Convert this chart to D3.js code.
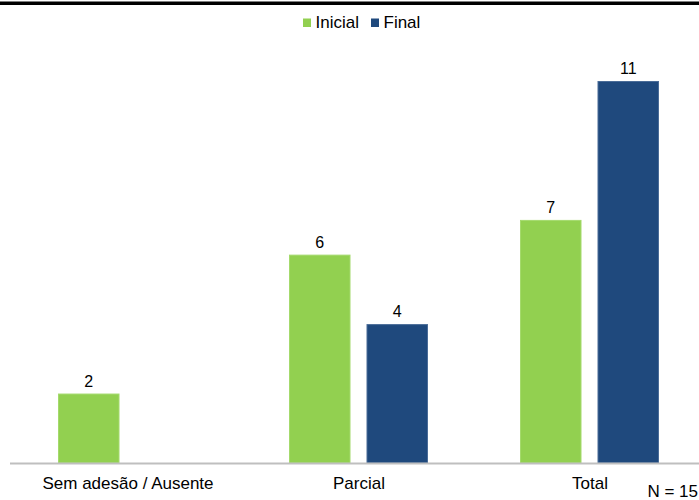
<!DOCTYPE html>
<html><head><meta charset="utf-8">
<script src="https://cdn.jsdelivr.net/npm/d3@7"></script>
<style>body{margin:0;background:#fff}svg{display:block;font-family:"Liberation Sans",Arial,sans-serif}</style>
</head><body>
<svg id="c" width="699" height="500"></svg>
<script>
const categories = ["Sem adesão / Ausente", "Parcial", "Total"];
const seriesNames = ["Inicial", "Final"];
const inicial = [2, 6, 7];
const final = [null, 4, 11];
const colors = ["#92D050", "#1F497D"];
const edgeColors = ["#A4DA6C", "#4A6C98"];
const note = "N = 15";

const svg = d3.select("#c");
const baseY = 463;
const y = d3.scaleLinear().domain([0, 11]).range([baseY, 81]);
const x0 = d3.scaleBand().domain(categories).range([12.5, 705.5]);
const x1 = d3.scaleBand().domain(seriesNames).range([45.5, 184.5]).paddingInner(16 / 77.5);

// top rule
svg.append("rect").attr("x", 0).attr("y", 1.5).attr("width", 699).attr("height", 3.5).attr("fill", "#000");

const data = categories.map((c, i) => ({c, vals: [inicial[i], final[i]]}));
const g = svg.selectAll("g.cat").data(data).join("g").attr("class", "cat")
  .attr("transform", d => `translate(${x0(d.c)},0)`);

g.each(function(d) {
  const gg = d3.select(this);
  d.vals.forEach((v, j) => {
    if (v == null) return;
    const bx = x1(seriesNames[j]);
    gg.append("rect").attr("x", bx + 0.5).attr("y", y(v) + 0.5).attr("width", x1.bandwidth() - 1)
      .attr("height", baseY - y(v) - 0.5).attr("fill", colors[j])
      .attr("stroke", edgeColors[j]).attr("stroke-width", 1);
    gg.append("text").attr("x", bx + x1.bandwidth() / 2).attr("y", y(v) - 7)
      .attr("text-anchor", "middle").attr("font-size", 16).attr("fill", "#000").text(v);
  });
});

// axis
svg.append("line").attr("x1", 10).attr("x2", 699).attr("y1", baseY + 0.5).attr("y2", baseY + 0.5)
  .attr("stroke", "#BFBFBF").attr("stroke-width", 2);
svg.selectAll("text.cl").data(categories).join("text").attr("class", "cl")
  .attr("x", d => x0(d) + x0.bandwidth() / 2).attr("y", 489)
  .attr("text-anchor", "middle").attr("font-size", 17).attr("fill", "#000").text(d => d);

svg.append("text").attr("x", 698).attr("y", 497).attr("text-anchor", "end")
  .attr("font-size", 17).attr("fill", "#000").text(note);

// legend
const leg = [{n: seriesNames[0], x: 303}, {n: seriesNames[1], x: 371}];
leg.forEach((l, i) => {
  svg.append("rect").attr("x", l.x).attr("y", 18.5).attr("width", 8).attr("height", 8.5).attr("fill", colors[i]);
  svg.append("text").attr("x", l.x + 12.5).attr("y", 27.5).attr("font-size", 17).attr("fill", "#000").text(l.n);
});
</script>
</body></html>
